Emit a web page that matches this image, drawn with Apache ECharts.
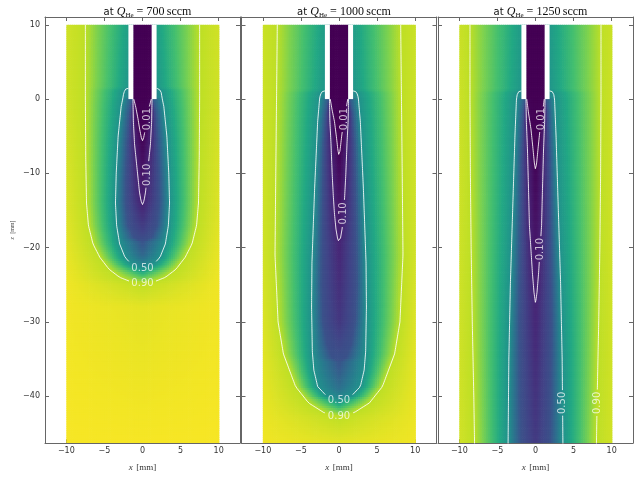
<!DOCTYPE html>
<html><head><meta charset="utf-8">
<script src="https://cdn.jsdelivr.net/npm/echarts@6/dist/echarts.min.js"></script>
<style>html,body{margin:0;padding:0;background:#fff}#c{width:644px;height:479px}</style>
</head><body><div id="c"></div>
<script>
// ---------------- data ----------------
const flowRates = [700, 1000, 1250];
const levels = [0.01, 0.10, 0.50, 0.90];      // drawn contour levels
const shadeLevels = [0.25];                    // extra iso-line read from the colours (not drawn)
const xTicks = [-10, -5, 0, 5, 10];
const zTicks = [-40, -30, -20, -10, 0, 10];
const tubeInner = 1.2, tubeOuter = 1.85, tubeBottom = 0, tubeTop = 10;
const fieldHalfWidth = 10;

// contour half-widths [|x| mm, z mm], top to bottom
const c700_001 = [[1.15,0],[0.9,-1],[0.6,-2.6],[0.35,-4.2],[0.15,-5.2],[0,-5.6]];
const c700_010 = [[1.25,0],[1.2,-3],[1.05,-6],[0.8,-8.5],[0.6,-10.5],[0.4,-12.5],[0.2,-13.7],[0,-14.2]];
const c700_025 = [[1.3,0],[1.7,-2],[2.0,-6],[2.2,-11],[2.2,-14],[1.9,-17],[1.1,-18.7],[0,-19.2]];
const c700_050 = [[1.85,1.45],[2.2,1.35],[2.45,0.9],[2.6,0],[2.8,-1],[3.2,-5],[3.45,-10],[3.55,-14],[3.4,-17],[3.0,-19.5],[2.3,-21.3],[1.3,-22.4],[0,-22.8]];
const c700_090 = [[7.5,10],[7.5,0],[7.45,-8],[7.35,-14],[7.1,-17],[6.5,-19.5],[5.6,-21.3],[4.4,-22.9],[3.0,-24.0],[1.5,-24.6],[0,-24.8]];

const c1000_001 = [[1.15,0],[0.9,-1.5],[0.6,-3],[0.35,-5],[0.15,-6.8],[0,-7.7]];
const c1000_010 = [[1.25,0],[1.2,-3],[1.05,-6],[0.9,-10],[0.75,-13],[0.6,-15.4],[0.4,-17.5],[0.2,-18.7],[0,-19.3]];
const c1000_025 = [[1.3,0],[1.7,-2],[2.0,-6],[2.2,-15],[2.3,-25],[2.1,-30],[1.6,-33],[0.9,-34.8],[0,-35.4]];
const c1000_050 = [[1.85,1.1],[2.2,1.0],[2.45,0.6],[2.55,0],[2.8,-3],[3.2,-12],[3.55,-22],[3.6,-28],[3.5,-34],[3.3,-36.5],[2.8,-38.7],[1.6,-40],[0,-40.6]];
const c1000_090 = [[8.1,10],[8.2,0],[8.3,-10],[8.4,-21],[8.0,-30],[7.3,-34.3],[5.7,-38.7],[4.0,-40.9],[2.0,-42.2],[0,-42.7]];

const c1250_001 = [[1.15,0],[0.9,-2],[0.6,-4],[0.35,-6.5],[0.15,-8.6],[0,-9.5]];
const c1250_010 = [[1.25,0],[1.2,-3],[1.05,-7],[0.92,-12],[0.8,-17],[0.6,-20.2],[0.4,-23.5],[0.2,-26],[0,-27.5]];
const c1250_025 = [[1.3,0],[1.6,-2],[1.85,-8],[2.0,-20],[2.1,-30],[2.0,-40],[1.9,-46.5]];
const c1250_050 = [[1.85,1.1],[2.2,1.0],[2.4,0.6],[2.5,0],[2.7,-5],[3.0,-15],[3.3,-25],[3.5,-35],[3.6,-46.5]];
const c1250_090 = [[8.6,10],[8.6,0],[8.55,-10],[8.45,-20],[8.3,-30],[8.1,-40],[8.0,-46.5]];

// values on the axis x = 0 [z, value]
const center700  = [[0,0],[-5.6,0.01],[-14.2,0.1],[-18,0.2],[-21,0.33],[-22.8,0.5],[-24.8,0.9],[-28,0.96],[-46.5,0.99]];
const center1000 = [[0,0],[-7.7,0.01],[-19.3,0.1],[-30,0.16],[-36,0.27],[-39,0.37],[-40.6,0.5],[-42.7,0.9],[-46.5,0.96]];
const center1250 = [[0,0],[-9.5,0.01],[-27.5,0.1],[-46.5,0.17]];
// values at |x| = 10 [z, value]
const edge700  = [[10,0.93],[0,0.93],[-15,0.95],[-25,0.98],[-46.5,0.99]];
const edge1000 = [[10,0.92],[-20,0.93],[-35,0.96],[-46.5,0.98]];
const edge1250 = [[10,0.92],[-46.5,0.93]];
// values next to the outer tube wall [z, value]
const wall700  = [[10,0.56],[1.6,0.52],[1.3,0.46],[0,0.44]];
const wall1000 = [[10,0.55],[1.2,0.52],[1.0,0.46],[0,0.44]];
const wall1250 = [[10,0.54],[1.2,0.52],[1.0,0.46],[0,0.44]];

// contour labels [level, side (+1 right, 0 at tip), z]
const labels700  = [[0.01,1,-2.7],[0.10,1,-10.2],[0.50,0,0],[0.90,0,0]];
const labels1000 = [[0.01,1,-2.7],[0.10,1,-15.4],[0.50,0,0],[0.90,0,0]];
const labels1250 = [[0.01,1,-2.7],[0.10,1,-20.2],[0.50,1,-40.9],[0.90,1,-40.9]];

const contours = [[c700_001,c700_010,c700_050,c700_090],[c1000_001,c1000_010,c1000_050,c1000_090],[c1250_001,c1250_010,c1250_050,c1250_090]];
const shadeContours = [[c700_025],[c1000_025],[c1250_025]];
const centers = [center700, center1000, center1250];
const edges = [edge700, edge1000, edge1250];
const walls = [wall700, wall1000, wall1250];
const labelSets = [labels700, labels1000, labels1250];

const viridis = ['#440154','#482475','#414487','#355f8d','#2a788e','#21918c','#22a884','#44bf70','#7ad151','#bddf26','#fde725'];

// ---------------- layout ----------------
const gridLeft = [45, 241.5, 438];
const gridTop = 17, gridW = 195, gridH = 435;
const xMin = -12.8, xMax = 12.8, zMin = -46.3, zMax = 11.05;
const dx = 0.25, dz = 0.3;

function lerpTable(t, z) {
  if (z >= t[0][0]) return t[0][1];
  for (let i = 0; i < t.length - 1; i++) {
    const a = t[i], b = t[i+1];
    if (z <= a[0] && z >= b[0]) return a[1] + (b[1]-a[1]) * (z-a[0]) / (b[0]-a[0]);
  }
  return t[t.length-1][1];
}
function crossing(c, z) {
  if (z > c[0][1] || z < c[c.length-1][1]) return null;
  for (let i = 0; i < c.length - 1; i++) {
    const a = c[i], b = c[i+1];
    if (z <= a[1] && z >= b[1]) {
      if (a[1] === b[1]) return a[0];
      return a[0] + (b[0]-a[0]) * (z-a[1]) / (b[1]-a[1]);
    }
  }
  return null;
}
function fieldValue(p, ax, z) {
  if (z > tubeBottom && ax < tubeInner) return 0;
  const anchors = [];
  if (z > tubeBottom) anchors.push([tubeOuter, lerpTable(walls[p], z)]);
  else anchors.push([0, lerpTable(centers[p], z)]);
  levels.forEach((lv, i) => { const w = crossing(contours[p][i], z); if (w !== null) anchors.push([w, lv]); });
  shadeLevels.forEach((lv, i) => { const w = crossing(shadeContours[p][i], z); if (w !== null) anchors.push([w, lv]); });
  anchors.push([fieldHalfWidth, lerpTable(edges[p], z)]);
  anchors.sort((a, b) => a[0] - b[0]);
  if (ax <= anchors[0][0]) return anchors[0][1];
  for (let i = 0; i < anchors.length - 1; i++) {
    const a = anchors[i], b = anchors[i+1];
    if (ax <= b[0]) return b[0] === a[0] ? b[1] : a[1] + (b[1]-a[1]) * (ax-a[0]) / (b[0]-a[0]);
  }
  return anchors[anchors.length-1][1];
}
function densify(pts) {
  const out = [pts[0]];
  for (let i = 0; i < pts.length - 1; i++) {
    const a = pts[i], b = pts[i+1];
    const n = Math.max(1, Math.ceil(Math.hypot(b[0]-a[0], b[1]-a[1]) / 0.15));
    for (let k = 1; k <= n; k++) out.push([a[0]+(b[0]-a[0])*k/n, a[1]+(b[1]-a[1])*k/n]);
  }
  return out;
}
function polylines(c) {
  const left = c.map(q => [-q[0], q[1]]);
  const right = c.map(q => [q[0], q[1]]).reverse();
  if (c[c.length-1][0] === 0) return [left.concat(right.slice(1))];
  return [left, right];
}
const fmt = v => v < 0 ? '\u2212' + Math.abs(v) : String(v);

const series = [], fieldIdx = [], xAxes = [], yAxes = [], grids = [], titles = [];
const axisColor = '#666';
for (let p = 0; p < 3; p++) {
  grids.push({left: gridLeft[p], top: gridTop, width: gridW, height: gridH});
  const base = {gridIndex: p, type: 'value', min: xMin, max: xMax, splitLine: {show: false},
    axisLine: {show: true, onZero: false, lineStyle: {color: axisColor, width: 1}}};
  xAxes.push(Object.assign({}, base, {position: 'bottom',
    axisTick: {show: true, inside: true, length: 4, customValues: xTicks, lineStyle: {color: axisColor}},
    axisLabel: {show: true, customValues: xTicks, margin: 4, fontSize: 8, color: '#333', fontFamily: 'DejaVu Sans', formatter: fmt},
    name: '{i|x} {r|[mm]}', nameLocation: 'middle', nameGap: 19,
    nameTextStyle: {rich: {i: {fontFamily: 'Liberation Serif', fontStyle: 'italic', fontSize: 9, color: '#333'}, r: {fontFamily: 'Liberation Serif', fontSize: 9, color: '#333'}}}}));
  xAxes.push(Object.assign({}, base, {position: 'top',
    axisTick: {show: true, inside: true, length: 4, customValues: xTicks, lineStyle: {color: axisColor}},
    axisLabel: {show: false}}));
  const ybase = {gridIndex: p, type: 'value', min: zMin, max: zMax, splitLine: {show: false},
    axisLine: {show: true, onZero: false, lineStyle: {color: axisColor, width: 1}}};
  const yl = Object.assign({}, ybase, {position: 'left',
    axisTick: {show: true, inside: true, length: 4, customValues: zTicks, lineStyle: {color: axisColor}},
    axisLabel: {show: p === 0, customValues: zTicks, margin: 5, fontSize: 8, color: '#333', fontFamily: 'DejaVu Sans', formatter: fmt}});
  if (p === 0) Object.assign(yl, {name: '{i|z} {r|[mm]}', nameLocation: 'middle', nameGap: 27, nameRotate: 90,
    nameTextStyle: {rich: {i: {fontFamily: 'Liberation Serif', fontStyle: 'italic', fontSize: 6, color: '#444'}, r: {fontFamily: 'Liberation Serif', fontSize: 6, color: '#444'}}}});
  yAxes.push(yl);
  yAxes.push(Object.assign({}, ybase, {position: 'right',
    axisTick: {show: true, inside: true, length: 4, customValues: zTicks, lineStyle: {color: axisColor}},
    axisLabel: {show: false}}));

  titles.push({text: `{a|at }{q|Q}{s|He}{b| = ${flowRates[p]}\u2009sccm}`, left: gridLeft[p] + gridW/2, top: 0, textAlign: 'center',
    textStyle: {fontWeight: 'normal', rich: {
      a: {fontFamily: 'DejaVu Sans', fontWeight: 'normal', fontSize: 10, color: '#111', lineHeight: 14},
      q: {fontFamily: 'Liberation Serif', fontWeight: 'normal', fontStyle: 'italic', fontSize: 12, color: '#111', lineHeight: 14},
      s: {fontFamily: 'Liberation Serif', fontWeight: 'normal', fontSize: 7, color: '#111', lineHeight: 8, verticalAlign: 'bottom'},
      b: {fontFamily: 'Liberation Serif', fontWeight: 'normal', fontSize: 12, color: '#111', lineHeight: 14}}}});

  // field cells
  const cells = [];
  for (let z = tubeTop - dz/2; z > zMin - dz/2; z -= dz)
    for (let x = -fieldHalfWidth + dx/2; x < fieldHalfWidth; x += dx)
      cells.push([x, z, fieldValue(p, Math.abs(x), z)]);
  fieldIdx.push(series.length);
  series.push({type: 'custom', xAxisIndex: 2*p, yAxisIndex: 2*p, data: cells, clip: true, progressive: 0, silent: true, z: 1,
    renderItem: (params, api) => {
      const x = api.value(0), z = api.value(1);
      const a = api.coord([x - dx/2, z + dz/2]), b = api.coord([x + dx/2, z - dz/2]);
      return {type: 'rect', shape: {x: a[0], y: a[1], width: b[0]-a[0]+0.7, height: b[1]-a[1]+0.7}, style: {fill: api.visual('color')}};
    }});
  // tube walls
  series.push({type: 'custom', xAxisIndex: 2*p, yAxisIndex: 2*p, silent: true, z: 3, clip: true,
    data: [[-tubeOuter, -tubeInner, tubeBottom, tubeTop], [tubeInner, tubeOuter, tubeBottom, tubeTop]],
    renderItem: (params, api) => {
      const a = api.coord([api.value(0), api.value(3)]), b = api.coord([api.value(1), api.value(2)]);
      return {type: 'rect', shape: {x: a[0], y: a[1], width: b[0]-a[0], height: b[1]-a[1]}, style: {fill: '#ffffff'}};
    }});
  // contour lines with gaps for labels
  const labelData = [];
  levels.forEach((lv, i) => {
    const c = contours[p][i];
    const labs = labelSets[p].filter(l => Math.abs(l[0] - lv) < 1e-9);
    const tipZ = c[c.length-1][1];
    polylines(c).forEach(pl => {
      const pts = densify(pl);
      let run = [];
      const flush = () => { if (run.length > 1) series.push({type: 'line', xAxisIndex: 2*p, yAxisIndex: 2*p, data: run, showSymbol: false, symbol: 'none', silent: true, z: 4, clip: true,
        lineStyle: {color: 'rgba(255,255,255,0.85)', width: 1}}); run = []; };
      pts.forEach(q => {
        let gap = false;
        labs.forEach(l => {
          if (l[1] !== 0) { if (Math.sign(q[0]) === l[1] && Math.abs(q[1] - l[2]) < 1.7) gap = true; }
          else if (Math.abs(q[0]) < 1.75 && Math.abs(q[1] - tipZ) < 1.5) gap = true;
        });
        if (gap) flush(); else run.push(q);
      });
      flush();
    });
    labs.forEach(l => {
      if (l[1] !== 0) labelData.push({value: [l[1] * crossing(c, l[2]), l[2]], name: lv.toFixed(2), label: {rotate: 90}});
      else labelData.push({value: [0, tipZ], name: lv.toFixed(2), label: {rotate: 0}});
    });
  });
  series.push({type: 'scatter', xAxisIndex: 2*p, yAxisIndex: 2*p, data: labelData, symbolSize: 0, silent: true, z: 5,
    label: {show: true, position: 'inside', formatter: d => d.name, color: 'rgba(255,255,255,0.9)', fontSize: 10, fontFamily: 'DejaVu Sans'}});
}

const chart = echarts.init(document.getElementById('c'));
chart.setOption({
  animation: false,
  backgroundColor: '#ffffff',
  title: titles,
  grid: grids,
  xAxis: xAxes,
  yAxis: yAxes,
  visualMap: {show: false, type: 'continuous', min: 0, max: 1, dimension: 2, seriesIndex: fieldIdx, inRange: {color: viridis}},
  series: series
});
</script></body></html>
